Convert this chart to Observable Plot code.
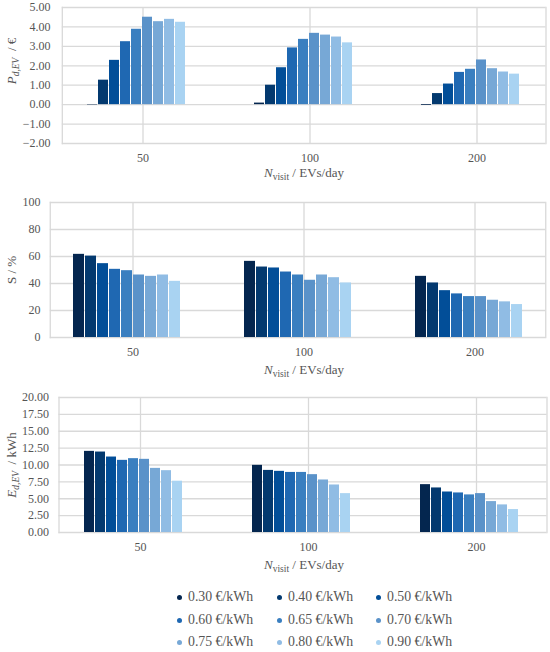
<!DOCTYPE html>
<html><head><meta charset="utf-8">
<script src="https://cdn.jsdelivr.net/npm/d3@7"></script>
<script src="https://cdn.jsdelivr.net/npm/@observablehq/plot@0.6"></script>
<style>
body{margin:0;background:#fff;font-family:"Liberation Serif",serif;}
#wrap{width:550px;}
svg{display:block}
.legend{position:relative;height:74px;width:550px;color:#555;font-size:13.8px}
.legend .it{position:absolute;white-space:nowrap;line-height:1}
.legend .dot{position:absolute;width:5px;height:5px;border-radius:50%}
</style></head><body><div id="wrap"></div>
<script>
// categories
const groups = ["50", "100", "200"];
const prices = ["0.30", "0.40", "0.50", "0.60", "0.65", "0.70", "0.75", "0.80", "0.90"];
const priceLabels = prices.map(p => p + " €/kWh");
const colors = ["#04264f", "#03396f", "#024e98", "#1f68b2", "#3a7fc0", "#5a92c9", "#77a8d6", "#90bce4", "#a9d3f2"];

// P_d,EV / € (one array per N_visit group, values per price)
const profit50  = [-0.02, 1.26, 2.28, 3.24, 3.88, 4.50, 4.27, 4.39, 4.24];
const profit100 = [0.08, 1.00, 1.90, 2.92, 3.36, 3.67, 3.58, 3.48, 3.18];
const profit200 = [-0.04, 0.57, 1.06, 1.66, 1.82, 2.30, 1.85, 1.68, 1.57];

// S / %
const share50  = [61.6, 60.3, 54.7, 50.5, 49.5, 46.3, 45.3, 46.3, 41.6];
const share100 = [56.4, 52.2, 51.5, 48.5, 46.3, 42.4, 46.3, 44.3, 40.4];
const share200 = [45.3, 40.4, 34.7, 32.3, 30.3, 30.3, 27.6, 26.4, 24.4];

// E_d,EV / kWh
const energy50  = [12.02, 11.92, 11.18, 10.69, 10.94, 10.84, 9.50, 9.16, 7.60];
const energy100 = [9.95, 9.20, 9.06, 8.90, 8.90, 8.57, 7.78, 7.04, 5.76];
const energy200 = [7.09, 6.60, 6.00, 5.86, 5.57, 5.76, 4.58, 4.09, 3.40];

// tick labels
const profitTicks = [-2, -1, 0, 1, 2, 3, 4, 5];
const shareTicks = [0, 20, 40, 60, 80, 100];
const energyTicks = [0, 2.5, 5, 7.5, 10, 12.5, 15, 17.5, 20];

const GRID = "#d9d9d9";
const TEXT = "#555555";

function table(series) {
  const rows = [];
  groups.forEach((g, gi) => prices.forEach((p, pi) => rows.push({group: g, price: p, value: series[gi][pi]})));
  return rows;
}

function addText(svg, parts, attrs) {
  const t = d3.select(svg).append("text")
    .attr("fill", TEXT)
    .attr("font-family", "Liberation Serif, serif")
    .attr("font-size", attrs.size || 12)
    .attr("text-anchor", "middle")
    .attr("transform", attrs.transform);
  parts.forEach(p => {
    const s = t.append("tspan").text(p.t);
    if (p.italic) s.attr("font-style", "italic");
    if (p.size) s.attr("font-size", p.size);
    if (p.dy) s.attr("dy", p.dy);
  });
}

function chart(o) {
  const last = groups.length - 1;
  const gridMarks = groups.map((g, gi) => Plot.ruleY(o.ticks, {
    fx: () => g,
    insetLeft: gi === 0 ? -o.insetL : 0,
    insetRight: gi === last ? -o.insetR : 0,
    stroke: GRID, strokeWidth: 1.3
  }));
  const svg = Plot.plot({
    width: 550, height: o.height,
    marginTop: o.mt, marginBottom: o.mb, marginLeft: o.ml, marginRight: 4,
    style: {fontFamily: "Liberation Serif, serif", fontSize: "12px", color: TEXT, background: "#fff", overflow: "visible"},
    fx: {domain: groups, padding: 0, insetLeft: o.insetL, insetRight: o.insetR},
    x: {domain: prices, paddingInner: 0.125, paddingOuter: 2.6, align: 0.4, axis: null},
    y: {domain: [o.ticks[0], o.ticks[o.ticks.length - 1]]},
    color: {domain: prices, range: colors},
    marks: [
      ...gridMarks,
      Plot.ruleX(groups, {fx: d => d, x: null, stroke: GRID, strokeWidth: 1.3}),
      Plot.frame({anchor: "left", fx: groups[0], insetLeft: -o.insetL, stroke: GRID, strokeWidth: 1.3}),
      Plot.frame({anchor: "right", fx: groups[last], insetRight: -o.insetR, stroke: GRID, strokeWidth: 1.3}),
      Plot.barY(table(o.series), {fx: "group", x: "price", y: "value", fill: "price"}),
      Plot.axisY(o.ticks, {tickSize: 0, tickPadding: o.tp, tickFormat: o.fmt, label: null, fill: TEXT}),
      Plot.axisFx({anchor: "bottom", tickSize: 0, tickPadding: 10, label: null, fill: TEXT})
    ]
  });
  addText(svg, o.ylabel, {transform: `translate(16,${o.ylabelY}) rotate(-90)`, size: 13});
  addText(svg, [
    {t: "N", italic: true},
    {t: "visit", size: 9.5, dy: 3},
    {t: " / EVs/day", dy: -3}
  ], {transform: `translate(304,${o.xlabelY})`, size: 13});
  return svg;
}

const wrap = document.getElementById("wrap");

wrap.appendChild(chart({
  series: [profit50, profit100, profit200], ticks: profitTicks, fmt: d3.format(".2f"),
  height: 190, mt: 7, mb: 47, ml: 62, insetL: -2.8, insetR: -14.5, tp: 9,
  ylabel: [{t: "P", italic: true}, {t: "d,EV", italic: true, size: 9.5, dy: 3}, {t: "  / €", dy: -3}],
  ylabelY: 61, xlabelY: 177
}));

wrap.appendChild(chart({
  series: [share50, share100, share200], ticks: shareTicks, fmt: d3.format("d"),
  height: 195, mt: 12, mb: 48, ml: 49, insetL: -2.75, insetR: -14.75, tp: 7,
  ylabel: [{t: "S / %"}],
  ylabelY: 80, xlabelY: 184
}));

wrap.appendChild(chart({
  series: [energy50, energy100, energy200], ticks: energyTicks, fmt: d3.format(".2f"),
  height: 193, mt: 12, mb: 46, ml: 58, insetL: -2.5, insetR: -13.5, tp: 7.5,
  ylabel: [{t: "E", italic: true}, {t: "d,EV", italic: true, size: 9.5, dy: 3}, {t: "  / kWh", dy: -3}],
  ylabelY: 80, xlabelY: 184
}));

// legend
const legend = d3.select(wrap).append("div").attr("class", "legend");
const colX = [179, 279, 378];
const rowY = [19, 42, 64];
prices.forEach((p, i) => {
  const cx = colX[i % 3], cy = rowY[Math.floor(i / 3)];
  legend.append("div").attr("class", "dot")
    .style("left", (cx - 2.5) + "px").style("top", (cy - 2.5) + "px")
    .style("background", colors[i]);
  legend.append("div").attr("class", "it")
    .style("left", (cx + 9) + "px").style("top", (cy - 7) + "px")
    .text(priceLabels[i]);
});
</script>
</body></html>
